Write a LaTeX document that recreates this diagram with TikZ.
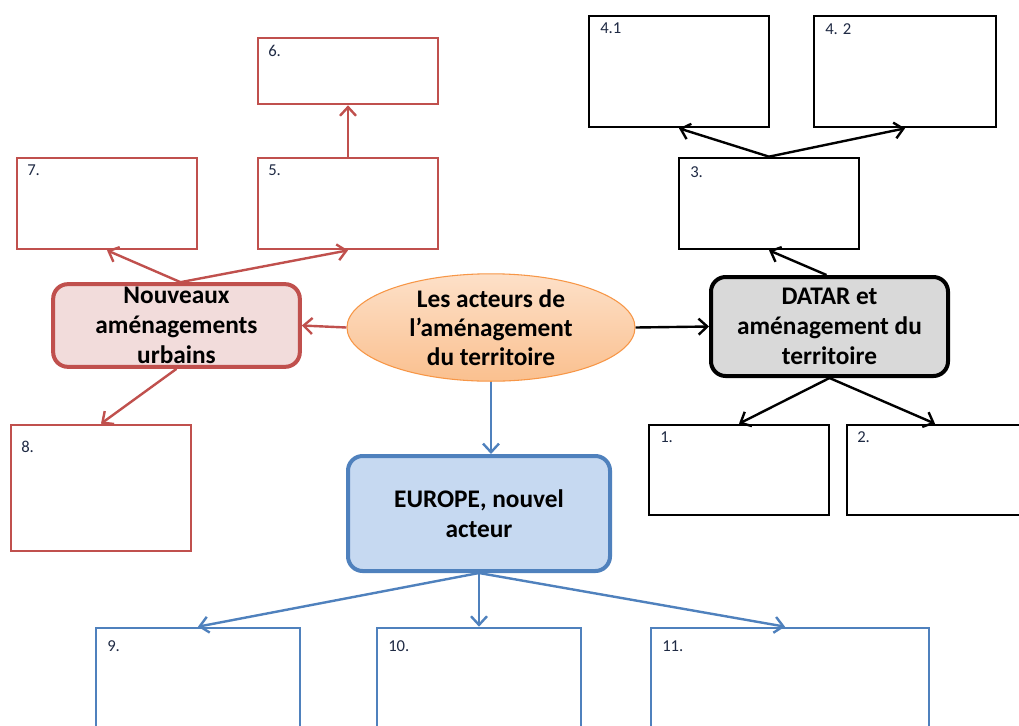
\documentclass[tikz,border=0pt]{standalone}
\usepackage{fontspec}
\setmainfont{Carlito}
\usetikzlibrary{arrows.meta,shapes.geometric}
\definecolor{redc}{HTML}{C0504D}
\definecolor{redfill}{HTML}{F2DCDB}
\definecolor{bluec}{HTML}{4F81BD}
\definecolor{bluefill}{HTML}{C6D9F1}
\definecolor{greyfill}{HTML}{D9D9D9}
\definecolor{orangec}{HTML}{F79646}
\definecolor{orangetop}{HTML}{FDE0C8}
\definecolor{orangebot}{HTML}{FAC08F}
\definecolor{numc}{HTML}{1F2A44}
\tikzset{
  box/.style={draw, line width=2pt, fill=white, minimum width=#1, inner sep=0pt},
  redbox/.style={box=135pt, draw=redc},
  blackbox/.style={box=135pt, draw=black},
  bluebox/.style={box=153pt, draw=bluec},
  num/.style={anchor=north west, inner sep=0pt, font=\fontsize{12.5}{14}\selectfont, text=numc},
  main/.style={rounded corners=11pt, line width=3pt, align=center, inner sep=0pt,
     font=\bfseries\fontsize{19}{22.5}\selectfont},
  arr/.style={line width=1.8pt, -{Straight Barb[length=6.5pt,width=12pt,line width=1.8pt]}},
}
\begin{document}
\begin{tikzpicture}[x=0.75pt,y=-0.75pt]
\useasboundingbox (0,0) rectangle (1019,725);
\clip (0,0) rectangle (1019,725);
\fill[white] (0,0) rectangle (1019,725);

% red boxes
\node[redbox, minimum height=49.5pt] (b6) at (348,71) {};
\node[redbox, minimum height=68.25pt] (b7) at (107,203.5) {};
\node[redbox, minimum height=68.25pt] (b5) at (348,203.5) {};
\node[redbox, minimum height=94.5pt] (b8) at (101,488) {};

% black boxes
\node[blackbox, minimum height=83.25pt] (b41) at (679,71.5) {};
\node[blackbox, minimum width=136.5pt, minimum height=83.25pt] (b42) at (905,71.5) {};
\node[blackbox, minimum height=68.25pt] (b3) at (769,203.5) {};
\node[blackbox, minimum height=67.5pt] (b1) at (739,470) {};
\node[blackbox, minimum width=142pt, minimum height=67.5pt] (b2) at (941.5,470) {};

% blue boxes
\node[bluebox, minimum height=90pt] (b9) at (198,688) {};
\node[bluebox, minimum height=90pt] (b10) at (479,688) {};
\node[bluebox, minimum width=208.5pt, minimum height=90pt] (b11) at (790,688) {};

% numbers
\node[num] (n6) at (268,45) {6.};
\node[num] (n7) at (27,165) {7.};
\node[num] (n5) at (268,165) {5.};
\node[num] (n8) at (21,441) {8.};
\node[num] (n41) at (600,23) {4.1};
\node[num] (n42) at (825,23) {4. 2};
\node[num] (n3) at (690,166) {3.};
\node[num] (n1) at (660,431) {1.};
\node[num] (n2) at (857,431) {2.};
\node[num] (n9) at (107,640) {9.};
\node[num] (n10) at (388,640) {10.};
\node[num] (n11) at (662,640) {11.};

% main nodes
\node[main, draw=redc, fill=redfill, minimum width=185pt, minimum height=62pt] (nouv) at (176.5,325.5)
  {Nouveaux\\am\'enagements\\urbains};
\node[main, draw=black, fill=greyfill, minimum width=177.75pt, minimum height=74.25pt] (datar) at (829.5,326.5)
  {DATAR et\\am\'enagement du\\territoire};
\node[main, draw=bluec, fill=bluefill, minimum width=196.5pt, minimum height=86.25pt] (eu) at (479,513.5)
  {EUROPE, nouvel\\acteur};
\node[ellipse, draw=orangec, line width=0.8pt, top color=orangetop, bottom color=orangebot,
  minimum width=216pt, minimum height=75.75pt, inner sep=0pt, align=center,
  font=\bfseries\fontsize{19}{21.75}\selectfont] (ell) at (491,327.5)
  {Les acteurs de\\l’am\'enagement\\du territoire};

% connectors
\draw[arr, redc] (ell.west) -- (nouv.east);
\draw[arr, black] (ell.east) -- (datar.west);
\draw[arr, bluec] (ell.south) -- (ell.south |- eu.north);

\draw[arr, redc] (nouv.north) ++(4,0) coordinate (ntop) -- (b7.south);
\draw[arr, redc] (ntop) -- (b5.south);
\draw[arr, redc] (b5.north) -- (b6.south);
\draw[arr, redc] (nouv.south) -- (b8.north);

\draw[arr, black] (datar.north) ++(-3,0) coordinate (dtop) -- (b3.south);
\draw[arr, black] (b3.north) -- (b41.south);
\draw[arr, black] (b3.north) -- (b42.south);
\draw[arr, black] (datar.south) -- (b1.north);
\draw[arr, black] (datar.south) -- (b2.north -| 935,0);

\draw[arr, bluec] (eu.south) -- (b9.north);
\draw[arr, bluec] (eu.south) -- (b10.north);
\draw[arr, bluec] (eu.south) -- (b11.north -| 785,0);
\end{tikzpicture}
\end{document}
